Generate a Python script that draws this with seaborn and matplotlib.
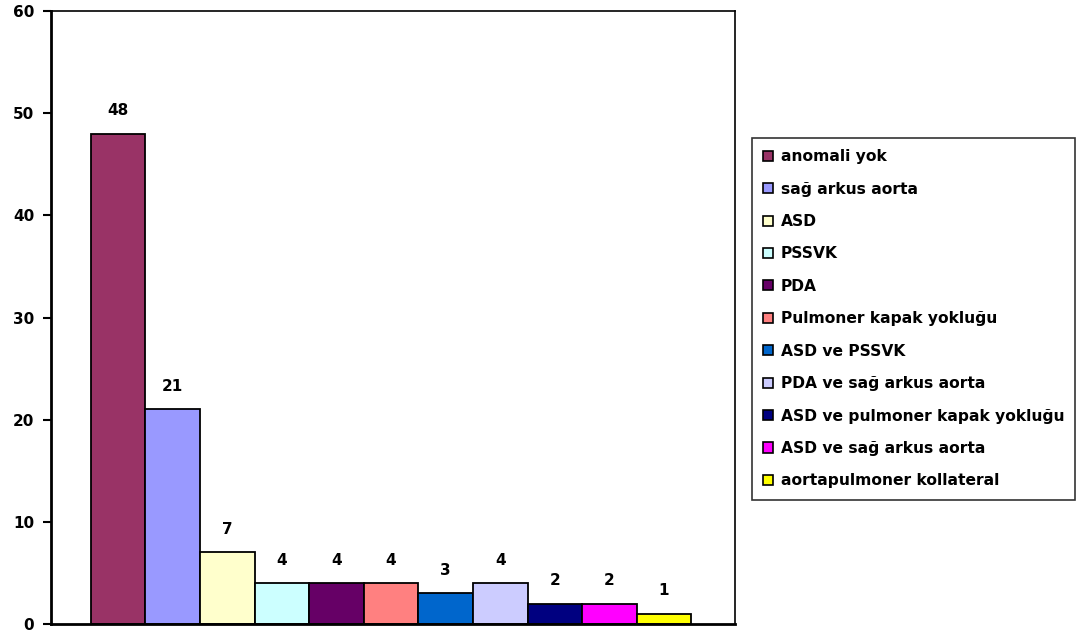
import matplotlib
matplotlib.use("Agg")
import matplotlib.pyplot as plt
import seaborn as sns
import pandas as pd

categories = ["anomali yok", "sağ arkus aorta", "ASD", "PSSVK", "PDA",
              "Pulmoner kapak yokluğu", "ASD ve PSSVK", "PDA ve sağ arkus aorta",
              "ASD ve pulmoner kapak yokluğu", "ASD ve sağ arkus aorta",
              "aortapulmoner kollateral"]
values = [48, 21, 7, 4, 4, 4, 3, 4, 2, 2, 1]
colors = ["#993366", "#9999FF", "#FFFFCC", "#CCFFFF", "#660066", "#FF8080",
          "#0066CC", "#CCCCFF", "#000080", "#FF00FF", "#FFFF00"]
y_ticks = [0, 10, 20, 30, 40, 50, 60]

sns.set_style("white")
plt.rcParams['font.family'] = ['DejaVu Sans']
plt.rcParams['text.color'] = 'black'
plt.rcParams['ytick.color'] = 'black'
plt.rcParams['ytick.labelcolor'] = 'black'

df = pd.DataFrame({"cat": categories, "val": values})
fig = plt.figure(figsize=(10.78, 6.32), dpi=100)
ax = fig.add_axes([51/1078, 1-624/632, (735-51)/1078, (624-11)/632])

sns.barplot(data=df, x="cat", y="val", hue="cat", palette=colors, dodge=False,
            width=1.0, edgecolor="black", linewidth=1.3, ax=ax, legend=False,
            order=categories, hue_order=categories, saturation=1)

for i, v in enumerate(values):
    ax.text(i, v + 1.5, str(v), ha="center", va="bottom", fontsize=11,
            fontweight="bold", color="black")

ax.set_xlim(-1.23, 11.3)
ax.set_ylim(0, 60)
ax.set_yticks(y_ticks)
ax.set_yticklabels([str(t) for t in y_ticks], fontsize=11, fontweight="bold",
                   color="black")
ax.set_xticks([])
ax.set_xlabel("")
ax.set_ylabel("")
ax.tick_params(axis="y", direction="out", length=6, width=1.5, left=True, pad=6,
               colors="black")
for s in ["left", "bottom"]:
    ax.spines[s].set_linewidth(2)
    ax.spines[s].set_color("black")
for s in ["top", "right"]:
    ax.spines[s].set_linewidth(1.2)
    ax.spines[s].set_color("black")

from matplotlib.patches import Patch
handles = [Patch(facecolor=c, edgecolor="black", linewidth=1.2) for c in colors]
leg = fig.legend(handles, categories, loc="upper left",
                 bbox_to_anchor=(752/1078, 1-138/632), frameon=True,
                 prop={"family": "DejaVu Sans", "weight": "bold", "size": 11.2},
                 handlelength=0.62, handleheight=0.62, handletextpad=0.5,
                 labelspacing=1.12, borderpad=0.72, fancybox=False,
                 borderaxespad=0, labelcolor="black")
leg.get_frame().set_edgecolor("black")
leg.get_frame().set_linewidth(1.2)

fig.savefig("out.png", dpi=100)
